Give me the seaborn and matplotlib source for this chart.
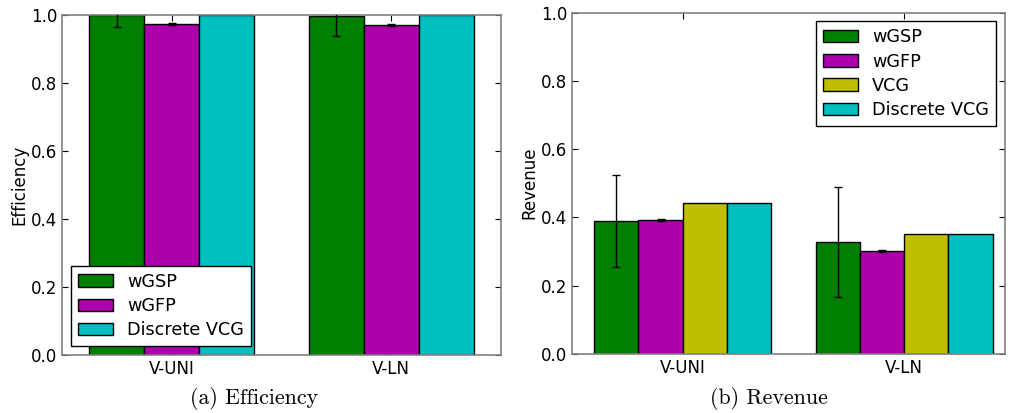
import matplotlib
matplotlib.use("Agg")
import matplotlib.pyplot as plt
import seaborn as sns
import pandas as pd
import numpy as np

categories = ["V-UNI", "V-LN"]

eff_mechs = ["wGSP", "wGFP", "Discrete VCG"]
eff_wGSP = [0.999, 0.997]
eff_wGFP = [0.974, 0.971]
eff_dvcg = [1.0, 1.0]
eff_err_wGSP = [0.035, 0.058]
eff_err_wGFP = [0.002, 0.002]
eff_err_dvcg = [0.0, 0.0]

rev_mechs = ["wGSP", "wGFP", "VCG", "Discrete VCG"]
rev_wGSP = [0.390, 0.328]
rev_wGFP = [0.392, 0.302]
rev_vcg = [0.443, 0.351]
rev_dvcg = [0.442, 0.351]
rev_err_wGSP = [0.135, 0.160]
rev_err_wGFP = [0.002, 0.002]
rev_err_vcg = [0.0, 0.0]
rev_err_dvcg = [0.0, 0.0]

colors = {"wGSP": "#007f00", "wGFP": "#ad00ad", "VCG": "#bfbf00", "Discrete VCG": "#00bfbf"}

sns.set_style("ticks")
plt.rcParams.update({
    "font.family": ["DejaVu Sans"],
    "text.color": "black", "axes.labelcolor": "black",
    "xtick.color": "black", "ytick.color": "black",
    "xtick.labelcolor": "black", "ytick.labelcolor": "black",
    "xtick.direction": "in", "ytick.direction": "in",
    "xtick.top": True, "ytick.right": True,
    "xtick.major.size": 4, "ytick.major.size": 4,
    "axes.edgecolor": "#808080", "axes.linewidth": 1.2,
    "xtick.labelsize": 12, "ytick.labelsize": 12,
})

fig = plt.figure(figsize=(10.10, 4.13), dpi=100)
W, H = 1010, 413
ax1 = fig.add_axes([62 / W, 1 - 355 / H, (501 - 62) / W, (355 - 15) / H])
ax2 = fig.add_axes([572 / W, 1 - 354 / H, (1005 - 572) / W, (354 - 12.5) / H])


def make_df(mechs, vals, errs):
    rows = []
    for m, v, e in zip(mechs, vals, errs):
        for c, vv, ee in zip(categories, v, e):
            rows.append({"cat": c, "mech": m, "val": vv, "err": ee})
    return pd.DataFrame(rows)


def draw(ax, df, mechs, width):
    sns.barplot(data=df, x="cat", y="val", hue="mech", order=categories, hue_order=mechs,
                palette=[colors[m] for m in mechs], width=width, errorbar=None,
                edgecolor="black", linewidth=1.0, saturation=1, ax=ax)
    patches = [p for p in ax.patches if p.get_width() > 0]
    for i, m in enumerate(mechs):
        sub = df[df.mech == m].set_index("cat").loc[categories]
        ps = patches[i * len(categories):(i + 1) * len(categories)]
        xs = [p.get_x() + p.get_width() / 2 for p in ps]
        errs = sub["err"].values
        mask = errs > 0
        if mask.any():
            ax.errorbar(np.array(xs)[mask], sub["val"].values[mask], yerr=errs[mask],
                        fmt="none", ecolor="black", elinewidth=1.0, capsize=3, capthick=1.0,
                        clip_on=True, zorder=5)
    ax.set_ylim(0, 1.0)
    ax.set_yticks([0, 0.2, 0.4, 0.6, 0.8, 1.0])
    ax.set_yticklabels(["0.0", "0.2", "0.4", "0.6", "0.8", "1.0"])
    ax.set_xlabel("")
    for s in ax.spines.values():
        s.set_visible(True)
        s.set_color("#808080")


df1 = make_df(eff_mechs, [eff_wGSP, eff_wGFP, eff_dvcg], [eff_err_wGSP, eff_err_wGFP, eff_err_dvcg])
draw(ax1, df1, eff_mechs, 0.75)
ax1.set_xlim(-0.5, 1.5)
ax1.set_ylabel("Efficiency", fontsize=12, labelpad=2)
leg1 = ax1.legend(loc="lower left", fontsize=12.7, fancybox=False, frameon=True,
                  edgecolor="black", framealpha=1, handlelength=2.0, labelspacing=0.35,
                  borderaxespad=0.5)
leg1.get_frame().set_linewidth(1.0)

df2 = make_df(rev_mechs, [rev_wGSP, rev_wGFP, rev_vcg, rev_dvcg],
              [rev_err_wGSP, rev_err_wGFP, rev_err_vcg, rev_err_dvcg])
draw(ax2, df2, rev_mechs, 0.8)
ax2.set_xlim(-0.5, 1.456)
ax2.set_ylabel("Revenue", fontsize=12, labelpad=2)
leg2 = ax2.legend(loc="upper right", fontsize=12.7, fancybox=False, frameon=True,
                  edgecolor="black", framealpha=1, handlelength=2.0, labelspacing=0.35,
                  borderaxespad=0.5)
leg2.get_frame().set_linewidth(1.0)

fig.text(254 / W, 1 - 398 / H, "(a) Efficiency", ha="center", va="center",
         fontsize=15.8, family="cmr10")
fig.text(769 / W, 1 - 398 / H, "(b) Revenue", ha="center", va="center",
         fontsize=15.8, family="cmr10")

fig.savefig("out.png", dpi=100)
